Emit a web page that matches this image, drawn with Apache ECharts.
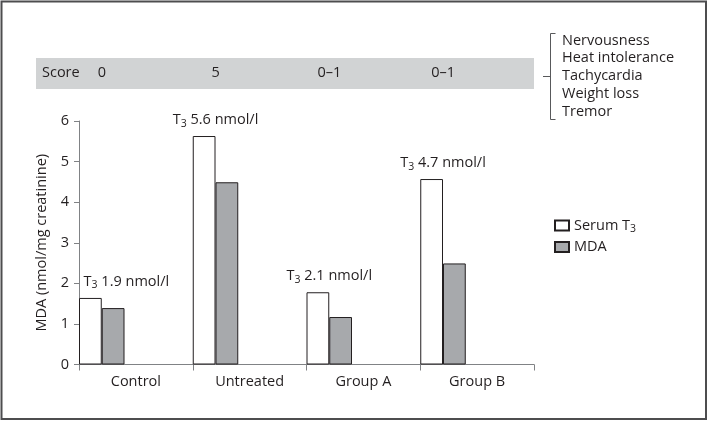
<!DOCTYPE html>
<html>
<head>
<meta charset="utf-8">
<script src="https://cdn.jsdelivr.net/npm/echarts@6/dist/echarts.min.js"></script>
<style>html,body{margin:0;padding:0;background:#fff}#c{width:708px;height:421px}</style>
</head>
<body>
<div id="c"></div>
<script>
const categories = ['Control', 'Untreated', 'Group A', 'Group B'];
const serumT3Bars = [1.64, 5.63, 1.78, 4.57];
const mdaValues = [1.39, 4.49, 1.17, 2.49];
const t3Labels = ['1.9', '5.6', '2.1', '4.7'];
const scores = ['0', '5', '0–1', '0–1'];
const symptoms = ['Nervousness', 'Heat intolerance', 'Tachycardia', 'Weight loss', 'Tremor'];
const yTicks = [0, 1, 2, 3, 4, 5, 6];

const FONT = '"Open Sans", "Noto Sans", sans-serif';
const FS = 14.5;
const TXT = '#231f20';
const AXIS = '#808285';

const chart = echarts.init(document.getElementById('c'), null, {renderer: 'canvas'});

const subRich = {
  t: {fontSize: FS, lineHeight: 18, color: TXT, fontFamily: FONT},
  s: {fontSize: 10.5, lineHeight: 10, verticalAlign: 'bottom', color: TXT, fontFamily: FONT}
};

const t3Data = serumT3Bars.map((v, i) => ({
  value: v,
  label: {offset: [i === 0 ? 36 : 11.4, 0]},
  t3: t3Labels[i]
}));

const emptySlot = () => ({type: 'bar', data: categories.map(() => null), barGap: '0%', barCategoryGap: '0%', silent: true});

const option = {
  animation: false,
  textStyle: {fontFamily: FONT},
  grid: {left: 79, right: 174, top: 121, bottom: 56.5, containLabel: false},
  legend: {
    data: ['Serum T3', 'MDA'],
    orient: 'vertical',
    left: 549, top: 213,
    itemWidth: 14, itemHeight: 10, itemGap: 5,
    icon: 'rect',
    textStyle: {rich: subRich, fontSize: FS, color: TXT},
    formatter: name => name === 'Serum T3' ? '{t|Serum T}{s|3}' : '{t|MDA}'
  },
  xAxis: [{
    type: 'category',
    data: categories,
    axisLine: {lineStyle: {color: AXIS, width: 1}},
    axisTick: {show: true, length: 6, lineStyle: {color: AXIS}},
    axisLabel: {color: TXT, fontSize: FS, margin: 10, fontFamily: FONT}
  }, {
    type: 'category',
    data: scores,
    position: 'top',
    offset: 48,
    axisLine: {show: false},
    axisTick: {show: false},
    axisLabel: {
      margin: 0, verticalAlign: 'middle', color: TXT, fontSize: FS, fontFamily: FONT,
      formatter: v => '{a|' + v + '}',
      rich: {a: {padding: [0, 68, 0, 0], fontSize: FS, color: TXT, fontFamily: FONT}}
    }
  }],
  yAxis: {
    type: 'value',
    min: 0, max: 6, interval: 1,
    name: 'MDA (nmol/mg creatinine)',
    nameLocation: 'middle',
    nameGap: 28,
    nameTextStyle: {color: TXT, fontSize: FS, fontFamily: FONT},
    axisLine: {show: true, lineStyle: {color: AXIS, width: 1}},
    axisTick: {show: true, length: 5, lineStyle: {color: AXIS}},
    splitLine: {show: false},
    axisLabel: {color: TXT, fontSize: FS, margin: 10, fontFamily: FONT,
      formatter: v => yTicks.includes(v) ? String(v) : ''}
  },
  series: [{
    name: 'Serum T3',
    type: 'bar',
    data: t3Data,
    barGap: '0%', barCategoryGap: '0%',
    itemStyle: {color: '#ffffff', borderColor: TXT, borderWidth: 1},
    label: {
      show: true, position: 'top', distance: 7,
      formatter: p => '{t|T}{s|3}{t| ' + p.data.t3 + ' nmol/l}',
      rich: subRich
    }
  }, {
    name: 'MDA',
    type: 'bar',
    data: mdaValues,
    barGap: '0%', barCategoryGap: '0%',
    itemStyle: {color: '#a7a9ac', borderColor: TXT, borderWidth: 1}
  }, emptySlot(), emptySlot(), emptySlot()],
  graphic: [
    {type: 'rect', shape: {x: 1.5, y: 1.5, width: 704.5, height: 417.5}, style: {fill: 'none', stroke: '#4d4d4f', lineWidth: 2}, z: 0},
    {type: 'rect', shape: {x: 36, y: 58, width: 498, height: 31}, style: {fill: '#d1d3d4'}, z: -1},
    {type: 'text', left: 42, top: 65, style: {text: 'Score', fill: TXT, font: FS + 'px ' + FONT}},
    {type: 'polyline', shape: {points: [[555.5, 33.5], [550.5, 33.5], [550.5, 119.5], [555.5, 119.5]]}, style: {stroke: '#58595b', lineWidth: 1, fill: 'none'}},
    {type: 'line', shape: {x1: 543, y1: 76.5, x2: 550.5, y2: 76.5}, style: {stroke: '#58595b', lineWidth: 1}},
    ...symptoms.map((s, i) => ({type: 'text', left: 562, top: 33 + i * 17.75, style: {text: s, fill: TXT, font: FS + 'px ' + FONT}}))
  ]
};
chart.setOption(option);
</script>
</body>
</html>
